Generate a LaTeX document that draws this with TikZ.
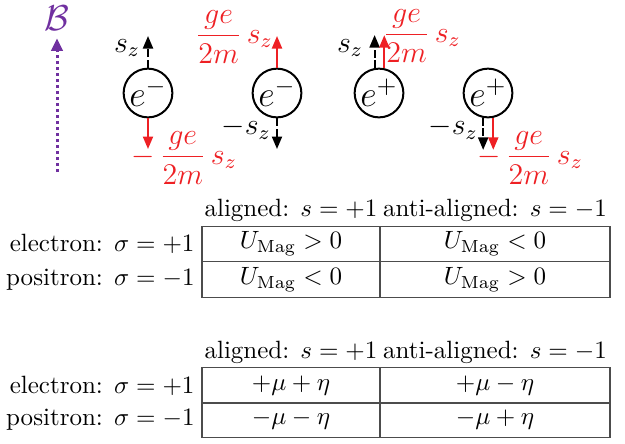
\documentclass[tikz,border=0pt]{standalone}
\usepackage{amsmath,amssymb}
\usepackage{tikz}
\usetikzlibrary{arrows.meta,positioning}
\definecolor{spinred}{HTML}{EE2024}
\definecolor{fieldpurple}{HTML}{7030A0}

\begin{document}
\begin{tikzpicture}[x=0.4pt,y=-0.4pt,
	part/.style={draw,circle,line width=0.8pt,minimum size=19.5pt,inner sep=0pt,font=\Large},
	spin/.style={line width=0.8pt,dash pattern=on 3.2pt off 1pt,-{Triangle[length=5pt,width=4pt]}},
	mom/.style={spinred,line width=0.8pt,-{Triangle[length=5pt,width=4pt]}},
	field/.style={fieldpurple,line width=1.2pt,dash pattern=on 1.2pt off 1.2pt,-{Triangle[length=5pt,width=4.5pt]}},
	lab/.style={inner sep=0pt,font=\large},
	cell/.style={draw=black!70,line width=0.5pt,minimum height=14.2pt,inner sep=0pt},
	cellL/.style={cell,minimum width=71.2pt},
	cellR/.style={cell,minimum width=92pt}
	]
	\useasboundingbox (0,0) rectangle (625,443);
	% magnetic field
	\node[text=fieldpurple,font=\Large,inner sep=0pt] (B) at (57,18) {$\mathcal{B}$};
	\coordinate (Bfoot) at (57,172);
	\draw[field] (Bfoot) -- ([yshift=-3pt]B.south);
	% particles
	\node[part] (e1) at (148,93) {$e^-$};
	\node[part] (e2) at (277,93) {$e^-$};
	\node[part] (p1) at (379,93) {$e^+$};
	\node[part] (p2) at (488,93) {$e^+$};
	% electron, spin up
	\draw[spin] (e1) -- ++(0,-57) coordinate (e1s);
	\draw[mom] (e1) -- ++(0,56) coordinate (e1m);
	\node[lab] (e1sl) at (127,48) {$s_z$};
	\node[lab,text=spinred] (e1ml) at (184,158) {$-\,\dfrac{ge}{2m}\,s_z$};
	% electron, spin down
	\draw[mom] (e2) -- ++(0,-57) coordinate (e2m);
	\draw[spin] (e2) -- ++(0,56) coordinate (e2s);
	\node[lab,text=spinred] (e2ml) at (234,37) {$\dfrac{ge}{2m}\,s_z$};
	\node[lab] (e2sl) at (246,128) {$-s_z$};
	% positron, spin up
	\draw[spin] (p1.100) -- ++(0,-33) coordinate (p1s);
	\draw[mom] (p1.78) -- ++(0,-33) coordinate (p1m);
	\node[lab] (p1sl) at (350,48) {$s_z$};
	\node[lab,text=spinred] (p1ml) at (422,36) {$\dfrac{ge}{2m}\,s_z$};
	% positron, spin down
	\draw[spin] (p2.259) -- ++(0,32) coordinate (p2s);
	\draw[mom] (p2.282) -- ++(0,32) coordinate (p2m);
	\node[lab] (p2sl) at (453,128) {$-s_z$};
	\node[lab,text=spinred] (p2ml) at (530,158) {$-\,\dfrac{ge}{2m}\,s_z$};
	% energy table
	\node (h1a) at (291,210) {aligned: $s=+1$};
	\node (h1b) at (495,210) {anti-aligned: $s=-1$};
	\node[anchor=east,inner sep=2pt] (r1a) at (200,244) {electron: $\sigma=+1$};
	\node[anchor=east,inner sep=2pt] (r1b) at (200,279.5) {positron: $\sigma=-1$};
	\node[cellL] (u11) at (291,244) {$U_{\mathrm{Mag}}>0$};
	\node[cellR] (u12) at (495,244) {$U_{\mathrm{Mag}}<0$};
	\node[cellL] (u21) at (291,279.5) {$U_{\mathrm{Mag}}<0$};
	\node[cellR] (u22) at (495,279.5) {$U_{\mathrm{Mag}}>0$};
	% chemical potential table
	\node (h2a) at (291,352) {aligned: $s=+1$};
	\node (h2b) at (495,352) {anti-aligned: $s=-1$};
	\node[anchor=east,inner sep=2pt] (r2a) at (200,385.5) {electron: $\sigma=+1$};
	\node[anchor=east,inner sep=2pt] (r2b) at (200,420) {positron: $\sigma=-1$};
	\node[cellL] (m11) at (291,385.5) {$+\mu+\eta$};
	\node[cellR] (m12) at (495,385.5) {$+\mu-\eta$};
	\node[cellL] (m21) at (291,420) {$-\mu-\eta$};
	\node[cellR] (m22) at (495,420) {$-\mu+\eta$};
\end{tikzpicture}
\end{document}
